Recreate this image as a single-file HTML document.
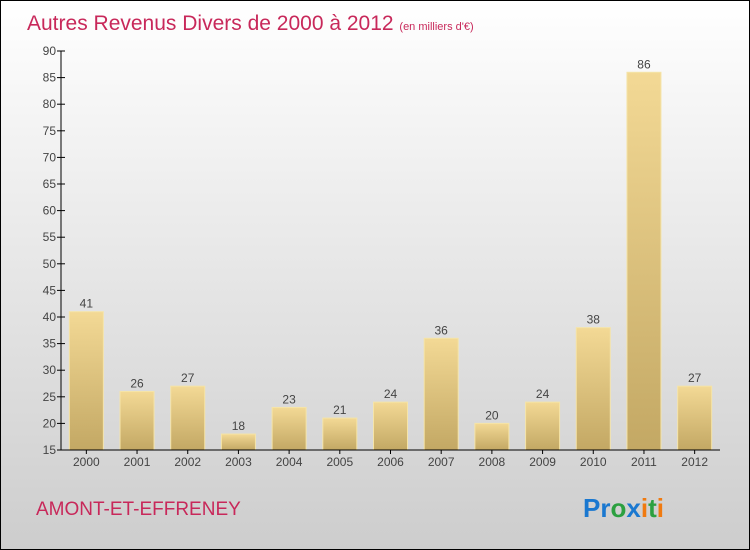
<!DOCTYPE html>
<html><head><meta charset="utf-8"><style>
body{margin:0;}
svg{display:block;font-family:"Liberation Sans",sans-serif;}
</style></head><body>
<svg width="750" height="550" viewBox="0 0 750 550">
<defs>
<linearGradient id="bg" x1="0" y1="0" x2="0" y2="1"><stop offset="0" stop-color="#ffffff"/><stop offset="1" stop-color="#cdcdcd"/></linearGradient>
<linearGradient id="bar" x1="0" y1="0" x2="0" y2="1"><stop offset="0" stop-color="#f3d995"/><stop offset="1" stop-color="#c3a864"/></linearGradient>
</defs>
<rect x="0.5" y="0.5" width="749" height="549" fill="url(#bg)" stroke="#000"/>
<text x="27" y="30" font-size="21" fill="#c8285a">Autres Revenus Divers de 2000 à 2012 <tspan font-size="11">(en milliers d'€)</tspan></text>
<g id="plot"></g>
<text x="36" y="515" font-size="19" fill="#c8285a">AMONT-ET-EFFRENEY</text>
<text x="583" y="517" font-size="26" font-weight="bold"><tspan fill="#1a78d0">Pr</tspan><tspan fill="#2ca040">o</tspan><tspan fill="#1a78d0">x</tspan><tspan fill="#f07a10">i</tspan><tspan fill="#2ca040">t</tspan><tspan fill="#f07a10">i</tspan></text>
</svg>
<script>
const categories=["2000","2001","2002","2003","2004","2005","2006","2007","2008","2009","2010","2011","2012"];
const values=[41,26,27,18,23,21,24,36,20,24,38,86,27];
const yTicks=[15,20,25,30,35,40,45,50,55,60,65,70,75,80,85,90];
const NS="http://www.w3.org/2000/svg";
const g=document.getElementById('plot');
const x0=61,x1=720,yTop=51,yBot=450,yMin=15,yMax=90;
const y=v=>yBot-(v-yMin)/(yMax-yMin)*(yBot-yTop);
const step=(x1-x0)/categories.length;
const xc=i=>x0+step*(i+0.5);
function mk(t,a){const e=document.createElementNS(NS,t);for(const k in a)e.setAttribute(k,a[k]);g.appendChild(e);return e;}
values.forEach((v,i)=>{
 const r=mk('rect',{x:xc(i)-17,y:y(v),width:34,height:yBot-y(v),fill:'url(#bar)',stroke:'#f5e4a8','stroke-width':1});
 
 
 const t=mk('text',{x:xc(i),y:y(v)-4,'text-anchor':'middle','font-size':12,fill:'#444'});t.textContent=v;
 
 
 const c=mk('text',{x:xc(i),y:466,'text-anchor':'middle','font-size':12,fill:'#444'});c.textContent=categories[i];
 
 
 const tk=mk('line',{x1:xc(i),x2:xc(i),y1:yBot,y2:yBot+4,stroke:'#000'});
 
 
});
yTicks.forEach(v=>{
 const l=mk('line',{x1:x0-4,x2:x0+4,y1:y(v),y2:y(v),stroke:'#000'});
 
 
 const t=mk('text',{x:x0-5,y:y(v)+4,'text-anchor':'end','font-size':12,fill:'#444'});t.textContent=v;
 
 
});
const ya=mk('line',{x1:x0,x2:x0,y1:yTop,y2:yBot,stroke:'#000'});


const xa=mk('line',{x1:x0,x2:x1,y1:yBot,y2:yBot,stroke:'#000'});


</script>
</body></html>
